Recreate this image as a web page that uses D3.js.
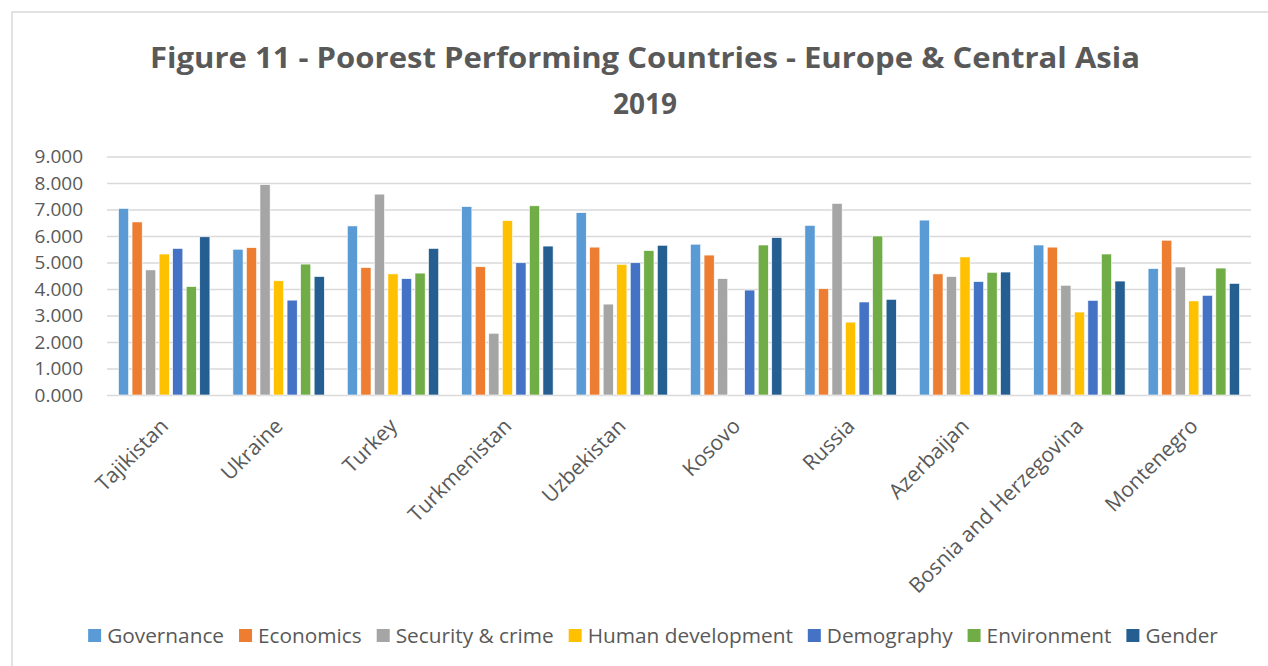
<!DOCTYPE html>
<meta charset="utf-8">
<style>
    body { margin: 0; background: white; }
    svg text { fill: #595959; font-family: "Open Sans", sans-serif; }
    .grid line { stroke: #d9d9d9; stroke-width: 1.5; }
    .grid path { display: none; }
</style>
<body>
<script src="https://cdn.jsdelivr.net/npm/d3@7"></script>
<script>
    // countries along the x axis
    var countries = ["Tajikistan", "Ukraine", "Turkey", "Turkmenistan", "Uzbekistan",
        "Kosovo", "Russia", "Azerbaijan", "Bosnia and Herzegovina", "Montenegro"];

    // one array per indicator, same order as countries
    var governance  = [7.04, 5.50, 6.38, 7.11, 6.88, 5.69, 6.40, 6.60, 5.66, 4.77];
    var economics   = [6.53, 5.56, 4.81, 4.84, 5.58, 5.28, 4.01, 4.57, 5.58, 5.84];
    var security    = [4.72, 7.94, 7.58, 2.33, 3.43, 4.39, 7.23, 4.47, 4.14, 4.83];
    var humanDev    = [5.32, 4.31, 4.57, 6.58, 4.93, 0,    2.75, 5.21, 3.13, 3.55];
    var demography  = [5.53, 3.58, 4.39, 4.99, 4.99, 3.96, 3.51, 4.28, 3.57, 3.76];
    var environment = [4.09, 4.94, 4.60, 7.14, 5.45, 5.66, 6.00, 4.63, 5.32, 4.79];
    var gender      = [5.97, 4.47, 5.53, 5.62, 5.65, 5.94, 3.61, 4.64, 4.30, 4.21];

    var seriesNames = ["Governance", "Economics", "Security & crime", "Human development",
        "Demography", "Environment", "Gender"];
    var seriesValues = [governance, economics, security, humanDev, demography, environment, gender];
    var colors = ["#5b9bd5", "#ed7d31", "#a5a5a5", "#ffc000", "#4472c4", "#70ad47", "#255e91"];

    var yTicks = [0, 1, 2, 3, 4, 5, 6, 7, 8, 9];

    var w = 1268, h = 666;
    var plotLeft = 107, plotRight = 1251, plotTop = 156.5, plotBottom = 395;

    var svg = d3.select("body").append("svg")
        .attr("width", w)
        .attr("height", h);

    // chart frame
    svg.append("rect")
        .attr("x", 12).attr("y", 12)
        .attr("width", 1300).attr("height", 700)
        .attr("fill", "none")
        .attr("stroke", "#d9d9d9")
        .attr("stroke-width", 1.5);

    // title
    var title = svg.append("text")
        .attr("text-anchor", "middle")
        .attr("font-weight", "bold")
        .style("font-size", "28px");
    title.append("tspan").attr("x", 645).attr("y", 68)
        .attr("textLength", 990).attr("lengthAdjust", "spacingAndGlyphs")
        .text("Figure 11 - Poorest Performing Countries - Europe & Central Asia");
    title.append("tspan").attr("x", 645).attr("y", 114)
        .text("2019");

    var x0 = d3.scaleBand().domain(countries).range([plotLeft, plotRight]).padding(0);
    var x1 = d3.scaleBand().domain(d3.range(seriesNames.length))
        .range([11.5, x0.bandwidth() - 11.5]).paddingInner(0.25);
    var y = d3.scaleLinear().domain([0, 9]).range([plotBottom, plotTop]);

    // gridlines + tick labels
    var yAxis = svg.append("g")
        .attr("class", "grid")
        .attr("transform", "translate(" + plotLeft + ",0)")
        .call(d3.axisLeft(y).tickValues(yTicks).tickFormat(d3.format(".3f"))
            .tickSize(-(plotRight - plotLeft)).tickPadding(24));
    yAxis.selectAll("text").style("font-size", "19px").attr("fill", "#595959");

    // bars
    var groups = svg.selectAll("g.country")
        .data(countries)
        .enter().append("g")
        .attr("class", "country")
        .attr("transform", function(d) { return "translate(" + x0(d) + ",0)"; });

    groups.selectAll("rect")
        .data(function(d, ci) {
            return seriesValues.map(function(s, si) { return {si: si, v: s[ci]}; })
                .filter(function(e) { return e.v > 0; });
        })
        .enter().append("rect")
        .attr("x", function(d) { return x1(d.si); })
        .attr("y", function(d) { return y(d.v); })
        .attr("width", x1.bandwidth())
        .attr("height", function(d) { return y(0) - y(d.v); })
        .attr("fill", function(d) { return colors[d.si]; })
        .attr("stroke", "white")
        .attr("stroke-width", 0.6);

    // x labels, rotated
    svg.selectAll("text.xlab")
        .data(countries)
        .enter().append("text")
        .attr("class", "xlab")
        .attr("text-anchor", "end")
        .style("font-size", "21px")
        .attr("transform", function(d) {
            return "translate(" + (x0(d) + x0.bandwidth() / 2 - 5) + ",417) rotate(-45)";
        })
        .attr("dy", "0.7em")
        .text(function(d) { return d; });

    // legend
    var legend = svg.append("g");
    var items = legend.selectAll("g")
        .data(seriesNames)
        .enter().append("g");
    items.append("rect")
        .attr("width", 13).attr("height", 13)
        .attr("y", 629)
        .attr("fill", function(d, i) { return colors[i]; });
    items.append("text")
        .attr("x", 19).attr("y", 642.5)
        .style("font-size", "20.8px")
        .text(function(d) { return d; });

    var pos = 0, offsets = [];
    items.each(function() {
        offsets.push(pos);
        pos += 19 + d3.select(this).select("text").node().getComputedTextLength() + 15;
    });
    var total = pos - 15;
    var start = 653 - total / 2;
    items.attr("transform", function(d, i) { return "translate(" + (start + offsets[i]) + ",0)"; });
</script>
</body>
